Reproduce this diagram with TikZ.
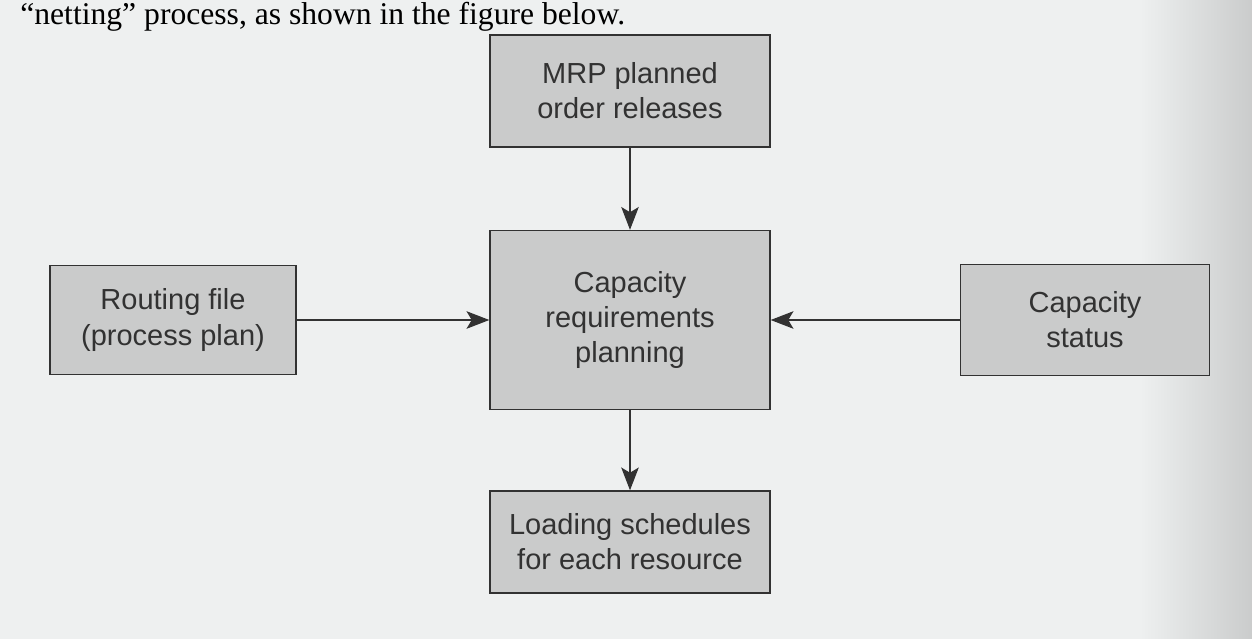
\documentclass[tikz,border=0pt]{standalone}
\usepackage{fontspec}
\setmainfont{Liberation Serif}
\newfontfamily\boxfont{Liberation Sans}
\usetikzlibrary{arrows.meta}
\definecolor{pagebg}{RGB}{238,240,240}
\definecolor{boxfill}{RGB}{202,203,203}
\definecolor{inkgray}{RGB}{50,50,50}

\begin{document}
\begin{tikzpicture}[x=0.02cm, y=-0.02cm,
  box/.style={draw=inkgray, fill=boxfill, line width=0.8pt, align=center, inner sep=0pt,
    text=inkgray, font=\boxfont\fontsize{16.5}{20}\selectfont},
  flow/.style={-{Stealth[length=13pt, width=10pt, inset=3pt]}, line width=0.7pt, draw=inkgray}]
  \useasboundingbox (0,0) rectangle (1252,639);
  \fill[pagebg] (0,0) rectangle (1252,639);
  \fill[left color=pagebg, right color=pagebg!85!black] (1140,0) rectangle (1252,639);
  \clip (0,0) rectangle (1252,639);

  % running text of the page above the figure
  \node[anchor=north west, inner sep=0pt, font=\fontsize{18}{21}\selectfont] (intro) at (20,2)
    {``netting'' process, as shown in the figure below.};

  % boxes
  \node[box, minimum width=5.6cm, minimum height=2.24cm] (mrp) at (630,91) {MRP planned\\order releases};
  \node[box, minimum width=5.6cm, minimum height=3.58cm] (crp) at (630,320) {Capacity\\requirements\\planning};
  \node[box, minimum width=4.92cm, minimum height=2.18cm] (route) at (173,320) {Routing file\\(process plan)};
  \node[box, minimum width=4.98cm, minimum height=2.22cm] (status) at (1085,320) {Capacity\\status};
  \node[box, minimum width=5.6cm, minimum height=2.04cm] (load) at (630,542) {Loading schedules\\for each resource};

  % arrows
  \draw[flow] (mrp) -- (crp);
  \draw[flow] (route) -- (crp);
  \draw[flow] (status) -- (crp);
  \draw[flow] (crp) -- (load);
\end{tikzpicture}
\end{document}
